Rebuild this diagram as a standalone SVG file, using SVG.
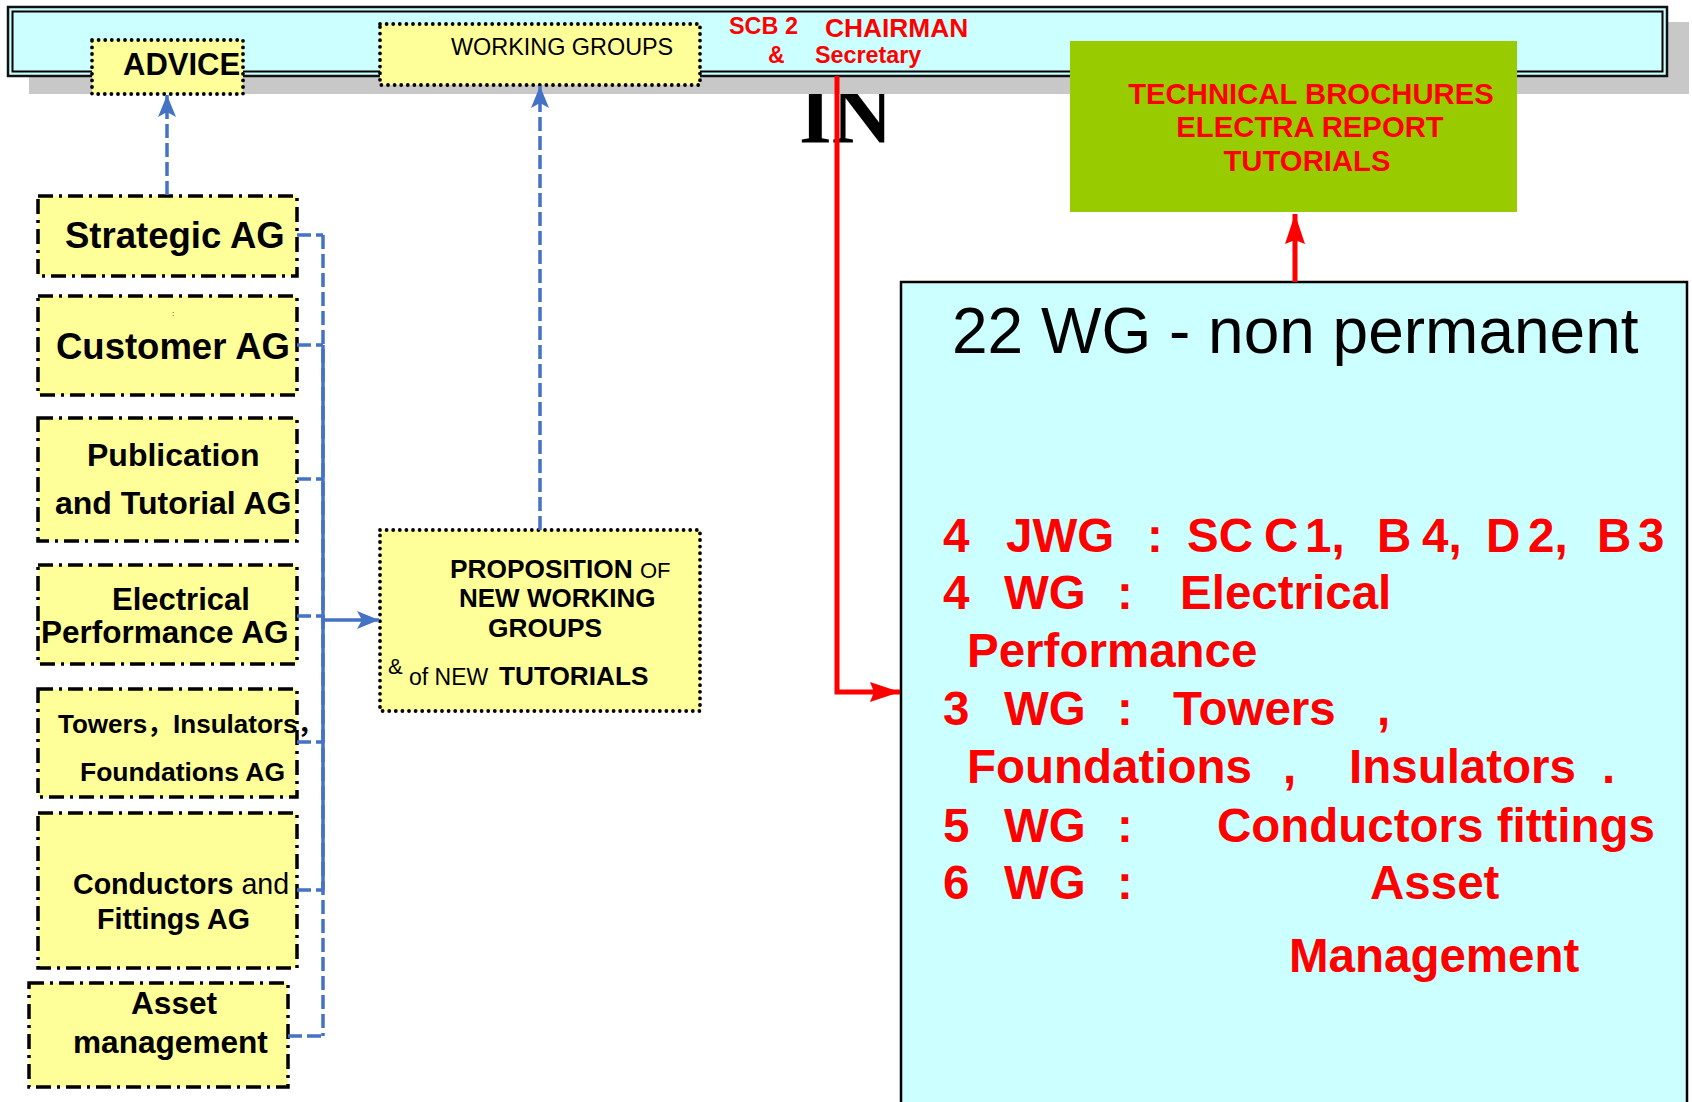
<svg xmlns="http://www.w3.org/2000/svg" width="1692" height="1102" viewBox="0 0 1692 1102">
<style>
.b{font-family:"Liberation Sans",Arial,"Noto Sans CJK SC",sans-serif;font-weight:bold;fill:#000}
.n{font-family:"Liberation Sans",Arial,sans-serif;font-weight:normal;fill:#000}
.red{fill:#FF0000}
.ag{fill:#FFFF99;stroke:#000;stroke-width:3.5;stroke-dasharray:15 6 3 6}
.dot{fill:#FFFF99;stroke:#000;stroke-width:3.8;stroke-dasharray:0 6.6;stroke-linecap:round}
.bl{fill:none;stroke:#4472C4;stroke-width:3.5}
.dash{stroke-dasharray:14 5}
.rl{fill:none;stroke:#FF0000;stroke-width:5}
</style>
<defs>
<marker id="ab" markerUnits="userSpaceOnUse" markerWidth="22" markerHeight="18" viewBox="0 0 22 18" refX="22" refY="9" orient="auto"><path d="M0,0 L22,9 L0,18 L5,9 z" fill="#4472C4"/></marker>
<marker id="ar" markerUnits="userSpaceOnUse" markerWidth="30" markerHeight="20" viewBox="0 0 30 20" refX="30" refY="10" orient="auto"><path d="M0,0 L30,10 L0,20 L4,10 z" fill="#FF0000"/></marker>
</defs>
<rect width="1692" height="1102" fill="#FFFFFF"/>
<text x="799" y="143" font-family="Liberation Serif,'Times New Roman',serif" font-weight="bold" font-size="84" fill="#000">IN</text>
<g id="banner">
<rect x="29" y="22" width="1660" height="72" fill="#C8C8C8"/>
<rect x="8" y="7" width="1659" height="69" fill="#CCFFFF" stroke="#111" stroke-width="2.5"/>
<rect x="12.5" y="11.5" width="1650" height="60" fill="none" stroke="#000" stroke-width="2"/>
<text class="b red" x="729" y="34" font-size="23.4">SCB 2</text>
<text class="b red" x="825" y="37" font-size="26.3">CHAIRMAN</text>
<text class="b red" x="768" y="63" font-size="23">&amp;</text>
<text class="b red" x="815" y="63" font-size="23.3">Secretary</text>
</g>
<g id="advice">
<rect class="dot" x="92" y="40" width="151" height="54"/>
<text class="b" x="123" y="75" font-size="31">ADVICE</text>
</g>
<g id="working-groups">
<rect class="dot" x="380" y="24" width="320" height="61"/>
<text class="n" x="451" y="55" font-size="23.4">WORKING GROUPS</text>
</g>
<g id="outputs">
<rect x="1070" y="41" width="447" height="171" fill="#99CC00"/>
<text class="b red" x="1311" y="104" font-size="29.3" text-anchor="middle">TECHNICAL BROCHURES</text>
<text class="b red" x="1310" y="137" font-size="29.3" text-anchor="middle">ELECTRA REPORT</text>
<text class="b red" x="1307" y="171" font-size="29.3" text-anchor="middle">TUTORIALS</text>
</g>
<g id="strategic-ag">
<rect class="ag" x="38" y="196" width="259" height="80"/>
<text class="b" x="65" y="248" font-size="36.5">Strategic AG</text>
</g>
<g id="customer-ag">
<rect class="ag" x="38" y="296" width="259" height="99"/>
<text class="n" x="172" y="316" font-size="8">:</text>
<text class="b" x="56" y="359" font-size="36.5">Customer AG</text>
</g>
<g id="publication-ag">
<rect class="ag" x="38" y="418" width="259" height="123"/>
<text class="b" x="87" y="466" font-size="32">Publication</text>
<text class="b" x="55" y="514" font-size="32">and Tutorial AG</text>
</g>
<g id="electrical-ag">
<rect class="ag" x="38" y="565" width="259" height="99"/>
<text class="b" x="112" y="610" font-size="31">Electrical</text>
<text class="b" x="41" y="643" font-size="31.5">Performance AG</text>
</g>
<g id="towers-ag">
<rect class="ag" x="38" y="689" width="259" height="108"/>
<text class="b" x="58" y="733" font-size="26">Towers，Insulators，</text>
<text class="b" x="80" y="781" font-size="26.5">Foundations AG</text>
</g>
<g id="conductors-ag">
<rect class="ag" x="38" y="813" width="259" height="155"/>
<text class="b" x="73" y="894" font-size="28.6">Conductors <tspan class="n">and</tspan></text>
<text class="b" x="97" y="929" font-size="28.6">Fittings AG</text>
</g>
<g id="asset-ag">
<rect class="ag" x="29" y="983" width="259" height="104"/>
<text class="b" x="131" y="1014" font-size="31.6">Asset</text>
<text class="b" x="73" y="1053" font-size="31.6">management</text>
</g>
<g id="proposition">
<rect class="dot" x="380" y="530" width="320" height="181"/>
<text class="b" x="450" y="578" font-size="26.3">PROPOSITION <tspan class="n" font-size="22">OF</tspan></text>
<text class="b" x="459" y="607" font-size="26">NEW WORKING</text>
<text class="b" x="488" y="637" font-size="26.3">GROUPS</text>
<text class="n" x="388" y="674" font-size="22">&amp;</text>
<text class="n" x="409" y="685" font-size="23">of NEW <tspan class="b" x="499" font-size="26.2">TUTORIALS</tspan></text>
</g>
<g id="wg-box">
<rect x="901" y="282" width="786" height="840" fill="#CCFFFF" stroke="#000" stroke-width="2.5"/>
<text class="n" x="952" y="353" font-size="64">22 WG - non permanent</text>
<g class="b red" font-size="47.5">
<text y="552"><tspan x="943">4</tspan><tspan x="1006">JWG</tspan><tspan x="1147">:</tspan><tspan x="1187">SC</tspan><tspan x="1264">C</tspan><tspan x="1305">1,</tspan><tspan x="1377">B</tspan><tspan x="1422">4,</tspan><tspan x="1486">D</tspan><tspan x="1528">2,</tspan><tspan x="1597">B</tspan><tspan x="1638">3</tspan></text>
<text y="609"><tspan x="943">4</tspan><tspan x="1004">WG</tspan><tspan x="1117">:</tspan><tspan x="1180">Electrical</tspan></text>
<text y="667"><tspan x="967">Performance</tspan></text>
<text y="725"><tspan x="943">3</tspan><tspan x="1004">WG</tspan><tspan x="1117">:</tspan><tspan x="1173">Towers</tspan><tspan x="1377">,</tspan></text>
<text y="783"><tspan x="967">Foundations</tspan><tspan x="1283">,</tspan><tspan x="1349">Insulators</tspan><tspan x="1602">.</tspan></text>
<text y="842"><tspan x="943">5</tspan><tspan x="1004">WG</tspan><tspan x="1117">:</tspan><tspan x="1217">Conductors fittings</tspan></text>
<text y="899"><tspan x="943">6</tspan><tspan x="1004">WG</tspan><tspan x="1117">:</tspan><tspan x="1370">Asset</tspan></text>
<text y="972"><tspan x="1289">Management</tspan></text>
</g>
</g>
<g id="connectors">
<path class="bl dash" d="M167,195 V95" marker-end="url(#ab)"/>
<path class="bl dash" d="M540,530 V86" marker-end="url(#ab)"/>
<path class="bl dash" d="M297,235 H323 M297,345 H323 M297,479 H323 M297,616 H323 M297,742 H323 M297,890 H323 M288,1036 H323"/>
<path class="bl dash" d="M323,235 V1036"/>
<path class="bl" d="M323,345 V890"/>
<path class="bl" d="M323,620 H379" marker-end="url(#ab)"/>
<path class="rl" d="M837,76 V692 H900" marker-end="url(#ar)"/>
<path class="rl" d="M1295,282 V214" marker-end="url(#ar)"/>
</g>
</svg>
